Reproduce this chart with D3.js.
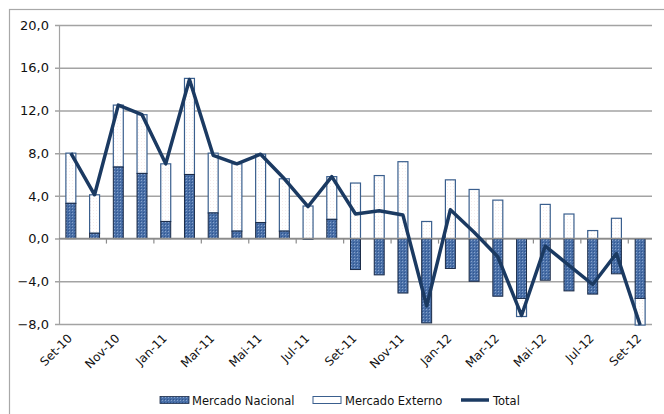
<!DOCTYPE html>
<html>
<head>
<meta charset="utf-8">
<script src="https://cdn.jsdelivr.net/npm/d3@7"></script>
<style>
  body { margin: 0; background: #fff; }
  svg { display: block; }
</style>
</head>
<body>
<script>
var months = ['Set-10', 'Out-10', 'Nov-10', 'Dez-10', 'Jan-11', 'Fev-11', 'Mar-11', 'Abr-11', 'Mai-11',
    'Jun-11', 'Jul-11', 'Ago-11', 'Set-11', 'Out-11', 'Nov-11', 'Dez-11', 'Jan-12', 'Fev-12', 'Mar-12',
    'Abr-12', 'Mai-12', 'Jun-12', 'Jul-12', 'Ago-12', 'Set-12'];
var nacional = [3.3, 0.5, 6.7, 6.1, 1.6, 6.0, 2.4, 0.7, 1.5, 0.7, -0.05, 1.8, -2.9, -3.4, -5.1,
    -7.9, -2.8, -4.0, -5.4, -5.6, -3.9, -4.9, -5.2, -3.3, -5.6];
var externo = [4.7, 3.6, 5.8, 5.5, 5.4, 9.0, 5.6, 6.3, 6.4, 4.9, 3.05, 4.0, 5.2, 5.9, 7.2,
    1.6, 5.5, 4.6, 3.6, -1.7, 3.2, 2.3, 0.75, 1.9, -2.5];
var total = [8.0, 4.1, 12.5, 11.6, 7.0, 14.9, 7.8, 7.0, 7.9, 5.6, 3.0, 5.8, 2.3, 2.6, 2.2,
    -6.3, 2.7, 0.6, -1.7, -7.2, -0.7, -2.5, -4.3, -1.4, -8.1];
var yTicks = [-8, -4, 0, 4, 8, 12, 16, 20];
var seriesNames = ['Mercado Nacional', 'Mercado Externo', 'Total'];

var width = 664, height = 414;
var margin = {left: 59, right: 12, top: 25, bottom: 90};
var colorLine = '#1b3a62',
    colorBar = '#4a70a8',
    colorBarEdge = '#1c2c48',
    colorExtEdge = '#3a5f8e',
    colorGrid = '#a3a3a3';
var font = '"DejaVu Sans", Verdana, sans-serif';

var svg = d3.select('body').append('svg')
    .attr('width', width)
    .attr('height', height);

// Patterns for the bar fills
var defs = svg.append('defs');
var pNac = defs.append('pattern')
    .attr('id', 'nac')
    .attr('patternUnits', 'userSpaceOnUse')
    .attr('width', 3).attr('height', 3);
pNac.append('rect').attr('width', 3).attr('height', 3).attr('fill', colorBar);
pNac.append('rect').attr('width', 1).attr('height', 1).attr('fill', '#86a2cc');
pNac.append('rect').attr('x', 2).attr('y', 2).attr('width', 1).attr('height', 1).attr('fill', '#2f5590');

var pExt = defs.append('pattern')
    .attr('id', 'ext')
    .attr('patternUnits', 'userSpaceOnUse')
    .attr('width', 3).attr('height', 3);
pExt.append('rect').attr('width', 3).attr('height', 3).attr('fill', '#fff');
pExt.append('rect').attr('width', 1).attr('height', 1).attr('fill', '#f6ecec');

// Outer chart frame (right and bottom run off the picture)
svg.append('rect')
    .attr('x', 9.5).attr('y', 9.5)
    .attr('width', 700).attr('height', 500)
    .attr('fill', 'none')
    .attr('stroke', '#a8a8a8')
    .attr('stroke-width', 1.2);

var x = d3.scaleBand()
    .domain(months)
    .range([margin.left, width - margin.right]);

var y = d3.scaleLinear()
    .domain([-8, 20])
    .range([324, margin.top]);

// Gridlines and y axis
svg.append('g')
    .attr('transform', 'translate(' + margin.left + ',0)')
    .call(d3.axisLeft(y)
        .tickValues(yTicks)
        .tickSize(-(width - margin.right - margin.left))
        .tickPadding(10)
        .tickFormat(function(d) { return d3.format('.1f')(d).replace('.', ','); }))
    .call(function(g) {
        g.select('.domain').attr('stroke', colorGrid).attr('stroke-width', 1.2);
        g.selectAll('.tick line')
            .attr('stroke', colorGrid)
            .attr('stroke-width', 1.5)
            .attr('x1', -4);
        g.selectAll('.tick text')
            .attr('fill', '#111')
            .style('font-family', font)
            .style('font-size', '13px');
    });

// Bars
var bw = x.bandwidth() * 0.42;
var bars = svg.append('g');
months.forEach(function(m, i) {
    var cx = x(m) + x.bandwidth() / 2;
    var n = nacional[i], e = externo[i];
    var base = e >= 0 ? Math.max(0, n) : Math.min(0, n);

    bars.append('rect')
        .attr('x', cx - bw / 2)
        .attr('y', y(Math.max(base, base + e)))
        .attr('width', bw)
        .attr('height', Math.abs(y(base) - y(base + e)))
        .attr('fill', 'url(#ext)')
        .attr('stroke', colorExtEdge)
        .attr('stroke-width', 1.2);

    bars.append('rect')
        .attr('x', cx - bw / 2)
        .attr('y', y(Math.max(0, n)))
        .attr('width', bw)
        .attr('height', Math.abs(y(0) - y(n)))
        .attr('fill', 'url(#nac)')
        .attr('stroke', colorBarEdge)
        .attr('stroke-width', 1);
});

// Zero axis with ticks every second month
var xAxis = svg.append('g')
    .attr('transform', 'translate(0,' + y(0) + ')');
xAxis.append('line')
    .attr('x1', margin.left).attr('x2', width - margin.right)
    .attr('stroke', '#8c8c8c').attr('stroke-width', 1.5);
months.forEach(function(m, i) {
    if (i % 2 === 0 && i > 0) {
        xAxis.append('line')
            .attr('x1', x(m)).attr('x2', x(m))
            .attr('y1', 0).attr('y2', 5)
            .attr('stroke', '#8c8c8c').attr('stroke-width', 1.2);
    }
});

// Month labels along the bottom
svg.append('g').selectAll('text')
    .data(months.filter(function(d, i) { return i % 2 === 0; }))
    .enter().append('text')
    .attr('transform', function(d) {
        return 'translate(' + (x(d) + x.bandwidth() / 2 + 2) + ',339) rotate(-45)';
    })
    .attr('text-anchor', 'end')
    .attr('fill', '#111')
    .style('font-family', font)
    .style('font-size', '12px')
    .text(function(d) { return d; });

// Total line
var line = d3.line()
    .x(function(d, i) { return x(months[i]) + x.bandwidth() / 2; })
    .y(function(d) { return y(d); });
svg.append('path')
    .datum(total)
    .attr('d', line)
    .attr('fill', 'none')
    .attr('stroke', colorLine)
    .attr('stroke-width', 3.5)
    .attr('stroke-linejoin', 'round');

// Legend
var legend = svg.append('g').attr('transform', 'translate(0,400)');
var legendX = [160, 313, 461];
legend.append('rect')
    .attr('x', legendX[0]).attr('y', -3.5).attr('width', 29).attr('height', 7)
    .attr('fill', 'url(#nac)').attr('stroke', colorBarEdge).attr('stroke-width', 0.8);
legend.append('rect')
    .attr('x', legendX[1]).attr('y', -3.5).attr('width', 28).attr('height', 7)
    .attr('fill', '#fff').attr('stroke', colorExtEdge).attr('stroke-width', 1);
legend.append('line')
    .attr('x1', legendX[2]).attr('x2', legendX[2] + 28)
    .attr('stroke', colorLine).attr('stroke-width', 3.5);
legend.selectAll('text')
    .data(seriesNames)
    .enter().append('text')
    .attr('x', function(d, i) { return legendX[i] + 32; })
    .attr('y', 4.5)
    .attr('fill', '#111')
    .style('font-family', font)
    .style('font-size', '11.5px')
    .text(function(d) { return d; });
</script>
</body>
</html>
